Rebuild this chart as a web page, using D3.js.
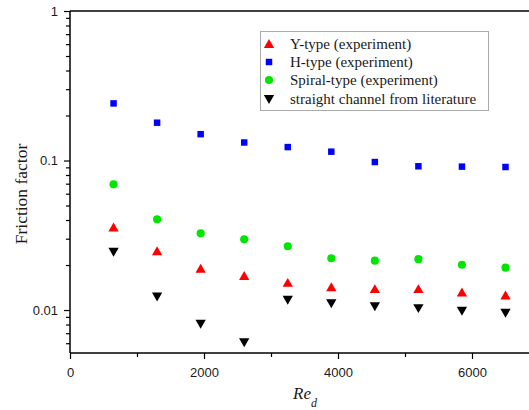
<!DOCTYPE html>
<html><head><meta charset="utf-8">
<script src="https://cdn.jsdelivr.net/npm/d3@7"></script>
<style>body{margin:0;background:#fff;}svg{display:block;}</style>
</head><body>
<svg id="c" width="529" height="410"></svg>
<script>
const reynolds = [650,1300,1950,2600,3250,3900,4550,5200,5850,6500];
const yType = [0.0357,0.0247,0.0189,0.0169,0.0152,0.0142,0.0138,0.0138,0.0131,0.0125];
const hType = [0.241,0.179,0.150,0.132,0.123,0.1146,0.0977,0.0915,0.0910,0.0905];
const spiralType = [0.0693,0.0404,0.0326,0.0297,0.0267,0.0222,0.0214,0.0219,0.0201,0.0192];
const straight = [0.0245,0.0123,0.0081,0.00608,0.0117,0.0111,0.0106,0.0103,0.00989,0.00959];
const xTicks = [0,2000,4000,6000];
const xMinor = [1000,3000,5000];
const yTicks = [1,0.1,0.01];
const yTickLabels = ["1","0.1","0.01"];
const legendLabels = ["Y-type (experiment)","H-type (experiment)","Spiral-type (experiment)","straight channel from literature"];

const svg = d3.select("#c");
const x = d3.scaleLinear().domain([0,7000]).range([70,539]);
const y = d3.scaleLog().domain([0.00516,1]).range([353,11]);

const g = svg.append("g");
g.append("line").attr("x1",70).attr("x2",539).attr("y1",11).attr("y2",11).attr("stroke","#000").attr("stroke-width",1.5);

const yMinorVals = [];
[0.001,0.01,0.1].forEach(d=>{for(let k=2;k<=9;k++){const v=d*k; if(v>=0.00516&&v<1) yMinorVals.push(+v.toPrecision(3));}});
const yAxis = d3.axisLeft(y).tickValues(yTicks).tickFormat((d,i)=>yTickLabels[i]).tickSize(6).tickPadding(6);
const ya = g.append("g").attr("transform","translate(70,0)").call(yAxis);
const yam = g.append("g").attr("transform","translate(70,0)").call(d3.axisLeft(y).tickValues(yMinorVals).tickFormat("").tickSize(4));

const xAxis = d3.axisBottom(x).tickValues(xTicks).tickFormat(d3.format("d")).tickSize(6).tickPadding(9);
const xa = g.append("g").attr("transform","translate(0,353)").call(xAxis);
const xam = g.append("g").attr("transform","translate(0,353)").call(d3.axisBottom(x).tickValues(xMinor).tickFormat("").tickSize(4));

[ya,yam,xa,xam].forEach(a=>{
  a.select(".domain").remove();
  a.selectAll(".tick line").attr("stroke","#000").attr("stroke-width",1.2);
  a.selectAll(".tick text").attr("font-family","Liberation Sans, Arial, sans-serif").attr("font-size",13).attr("fill","#1a1a1a");
});
g.append("line").attr("x1",70).attr("x2",70).attr("y1",y(1)).attr("y2",353).attr("stroke","#000").attr("stroke-width",1.5);
g.append("line").attr("x1",70).attr("x2",539).attr("y1",353).attr("y2",353).attr("stroke","#000").attr("stroke-width",1.5);

svg.append("text").attr("transform","translate(27,194) rotate(-90)").attr("text-anchor","middle")
  .attr("font-family","Liberation Serif, Times New Roman, serif").attr("font-size",17.5).attr("fill","#1a1a1a").text("Friction factor");
const xl = svg.append("text").attr("x",293).attr("y",399).attr("font-family","Liberation Serif, Times New Roman, serif").attr("font-style","italic").attr("font-size",17).attr("fill","#1a1a1a");
xl.append("tspan").text("Re");
xl.append("tspan").attr("font-size",12).attr("dy",8).text("d");

const sym = {
  up: d3.symbol().type(d3.symbolTriangle).size(46),
  sq: d3.symbol().type(d3.symbolSquare).size(42),
  circ: d3.symbol().type(d3.symbolCircle).size(52),
  down: d3.symbol().type(d3.symbolTriangle).size(46)
};
const series = [
  {vals:yType, sym:sym.up, color:"#ff0000", rot:0, dy:1},
  {vals:hType, sym:sym.sq, color:"#0000ff", rot:0, dy:0},
  {vals:spiralType, sym:sym.circ, color:"#00e600", rot:0, dy:0},
  {vals:straight, sym:sym.down, color:"#000000", rot:180, dy:-1}
];
series.forEach(s=>{
  g.append("g").selectAll("path").data(s.vals).join("path")
    .attr("d", s.sym())
    .attr("transform",(d,i)=>`translate(${x(reynolds[i])},${y(d)+s.dy}) rotate(${s.rot})`)
    .attr("fill", s.color);
});

const lg = svg.append("g");
lg.append("rect").attr("x",260.5).attr("y",31.5).attr("width",228).attr("height",79).attr("fill","#fff").attr("stroke","#aaa").attr("stroke-width",1);
const rowY = [44,62,80,99];
series.forEach((s,i)=>{
  lg.append("path").attr("d", s.sym()).attr("transform",`translate(269,${rowY[i]+s.dy}) rotate(${s.rot})`).attr("fill", s.color);
  lg.append("text").attr("x",290).attr("y",rowY[i]+5).attr("font-family","Liberation Serif, Times New Roman, serif").attr("font-size",15).attr("fill","#1a1a1a").text(legendLabels[i]);
});
</script>
</body></html>
